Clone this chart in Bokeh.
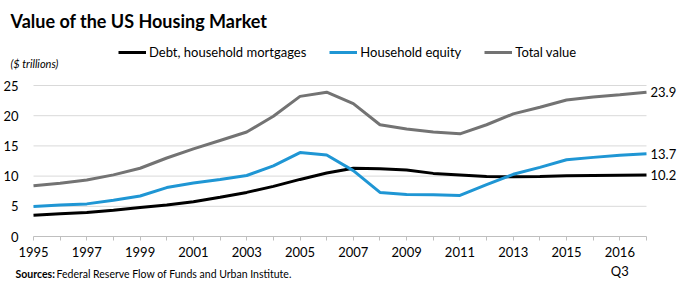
from bokeh.plotting import figure
from bokeh.models import (Range1d, FixedTicker, Label, Legend, LegendItem,
                          ColumnDataSource, LinearAxis)
from bokeh.embed import file_html
from bokeh.resources import INLINE

# ---- data ($ trillions) ----
periods = ["1995", "1996", "1997", "1998", "1999", "2000", "2001", "2002",
           "2003", "2004", "2005", "2006", "2007", "2008", "2009", "2010",
           "2011", "2012", "2013", "2014", "2015", "2016 Q1", "2016 Q2",
           "2016 Q3"]
debt = [3.5, 3.75, 3.98, 4.35, 4.8, 5.2, 5.75, 6.5, 7.3, 8.3, 9.45, 10.5,
        11.3, 11.2, 11.0, 10.45, 10.2, 9.95, 9.9, 9.95, 10.05, 10.1, 10.15,
        10.2]
equity = [4.98, 5.2, 5.4, 6.0, 6.7, 8.1, 8.85, 9.45, 10.1, 11.7, 13.9, 13.5,
          10.9, 7.3, 6.97, 6.9, 6.8, 8.6, 10.3, 11.45, 12.7, 13.1, 13.45,
          13.7]
total = [8.4, 8.8, 9.35, 10.2, 11.3, 13.0, 14.5, 15.9, 17.3, 19.9, 23.2,
         23.9, 22.0, 18.5, 17.8, 17.3, 17.0, 18.5, 20.3, 21.4, 22.6, 23.1,
         23.45, 23.9]
tick_labels = {0: "1995", 2: "1997", 4: "1999", 6: "2001", 8: "2003",
               10: "2005", 12: "2007", 14: "2009", 16: "2011", 18: "2013",
               20: "2015", 22: "2016\nQ3"}
y_ticks = [0, 5, 10, 15, 20, 25]

FONT = "Lato"
BLUE = "#1f96d4"
GRAY = "#737373"

W, H = 686, 305
PLOT_L, PLOT_R, PLOT_T, PLOT_B = 33, 646, 85, 236   # page pixels of plot area

x = list(range(len(periods)))
last = x[-1]
sx = (PLOT_R - PLOT_L) / last          # px per category
sy = (PLOT_B - PLOT_T) / y_ticks[-1]   # px per $ trillion

# the frame covers the whole canvas so out-of-plot texts are not clipped
p = figure(width=W, height=H, output_backend="svg", toolbar_location=None,
           x_range=Range1d(-PLOT_L / sx, (W - PLOT_L) / sx),
           y_range=Range1d(-(H - PLOT_B) / sy, PLOT_B / sy),
           min_border=0, min_border_left=0, min_border_right=0,
           min_border_top=0, min_border_bottom=0,
           x_axis_location=None, y_axis_location=None)
p.outline_line_color = None
p.background_fill_color = "white"
p.border_fill_color = "white"
p.grid.visible = False

def dx(px):
    return (px - PLOT_L) / sx

def dy(py):
    return (PLOT_B - py) / sy

# horizontal grid lines
gl = y_ticks[1:]
p.segment(x0=[0] * len(gl), x1=[last] * len(gl), y0=gl, y1=gl,
          line_color="#d9d9d9", line_width=1)

src = ColumnDataSource(dict(x=x, debt=debt, equity=equity, total=total,
                            period=periods))
r_debt = p.line("x", "debt", source=src, line_color="black", line_width=3)
r_eq = p.line("x", "equity", source=src, line_color=BLUE, line_width=3)
r_tot = p.line("x", "total", source=src, line_color=GRAY, line_width=3)

# axes placed at fixed data locations
xaxis = LinearAxis(fixed_location=0, bounds=(0, last))
xaxis.ticker = FixedTicker(ticks=x)
xaxis.major_label_overrides = {i: tick_labels.get(i, "") for i in x}
xaxis.axis_line_color = "#bfbfbf"
xaxis.major_tick_line_color = "#bfbfbf"
xaxis.major_tick_in = 0
xaxis.major_tick_out = 4
xaxis.minor_tick_line_color = None
xaxis.major_label_text_font = FONT
xaxis.major_label_text_font_size = "13px"
xaxis.major_label_text_color = "black"
xaxis.major_label_standoff = 3
p.add_layout(xaxis, "below")

yaxis = LinearAxis(fixed_location=0, bounds=(0, y_ticks[-1]))
yaxis.ticker = FixedTicker(ticks=y_ticks)
yaxis.axis_line_color = None
yaxis.major_tick_line_color = None
yaxis.minor_tick_line_color = None
yaxis.major_label_text_font = FONT
yaxis.major_label_text_font_size = "13px"
yaxis.major_label_text_color = "black"
yaxis.major_label_standoff = 9
p.add_layout(yaxis, "left")

# end labels
for series in (total, equity, debt):
    p.add_layout(Label(x=last, y=series[-1], text=f"{series[-1]:.1f}",
                       x_offset=4, text_font=FONT, text_font_size="13px",
                       text_color="black", text_baseline="middle"))

p.add_layout(Label(x=dx(10), y=dy(20), text="Value of the US Housing Market",
                   text_font=FONT, text_font_style="bold",
                   text_font_size="18px", text_color="black",
                   text_baseline="middle"))
p.add_layout(Label(x=dx(10), y=dy(63), text="($ trillions)", text_font=FONT,
                   text_font_style="italic", text_font_size="11px",
                   text_color="black", text_baseline="middle"))
p.add_layout(Label(x=dx(15), y=dy(273), text="Sources:", text_font=FONT,
                   text_font_style="bold", text_font_size="10.5px",
                   text_color="black", text_baseline="middle"))
p.add_layout(Label(x=dx(56), y=dy(273),
                   text="Federal Reserve Flow of Funds and Urban Institute.",
                   text_font=FONT, text_font_size="10.5px",
                   text_color="black", text_baseline="middle"))

legend = Legend(items=[LegendItem(label="Debt, household mortgages", renderers=[r_debt]),
                       LegendItem(label="Household equity", renderers=[r_eq]),
                       LegendItem(label="Total value", renderers=[r_tot])],
                orientation="horizontal", location=(118, 245),
                label_text_font=FONT, label_text_font_size="13px",
                label_text_color="black", glyph_width=28, glyph_height=14,
                label_standoff=3, spacing=23, padding=2, margin=0,
                border_line_color=None, background_fill_alpha=0)
p.add_layout(legend, "center")

open("out.html", "w").write(file_html(p, INLINE))
